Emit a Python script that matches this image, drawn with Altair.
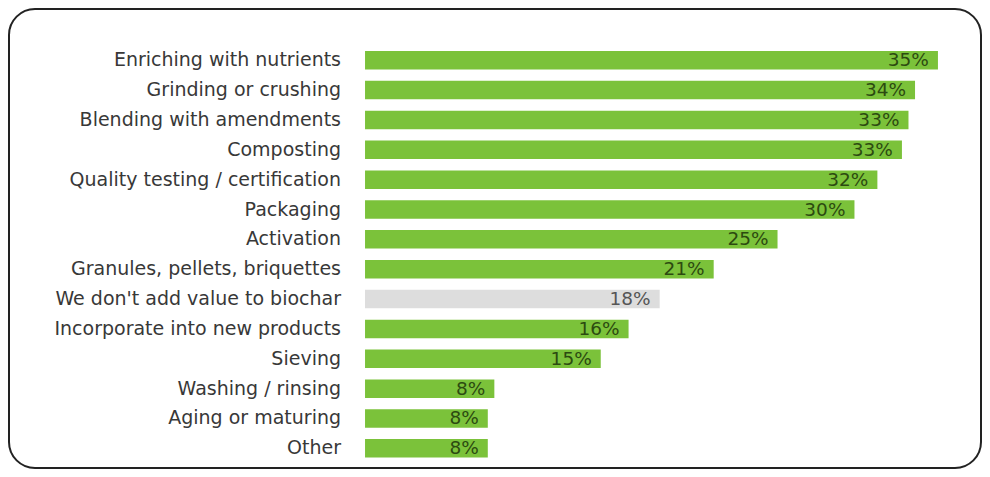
import altair as alt
import pandas as pd

categories = [
    "Enriching with nutrients", "Grinding or crushing", "Blending with amendments",
    "Composting", "Quality testing / certification", "Packaging", "Activation",
    "Granules, pellets, briquettes", "We don't add value to biochar",
    "Incorporate into new products", "Sieving", "Washing / rinsing",
    "Aging or maturing", "Other",
]
values = [35.0, 33.6, 33.2, 32.8, 31.3, 29.9, 25.2, 21.3, 18.0, 16.1, 14.4, 7.9, 7.5, 7.5]
value_labels = ["35%", "34%", "33%", "33%", "32%", "30%", "25%", "21%", "18%", "16%", "15%", "8%", "8%", "8%"]
highlight = ["yes"] * 8 + ["no"] + ["yes"] * 5

df = pd.DataFrame({"cat": categories, "val": values, "lab": value_labels, "kind": highlight})

W, H = 972, 459
x_scale = alt.Scale(domain=[-21.75, 37.63], nice=False, zero=False)
y_scale = alt.Scale(domain=categories, range=[42, 448.6], paddingInner=0.38, paddingOuter=0)

base = alt.Chart(df)

bars = base.mark_bar(size=18.5).encode(
    x=alt.X("val:Q", scale=x_scale, axis=None),
    x2=alt.datum(0),
    y=alt.Y("cat:N", scale=y_scale, axis=None, sort=categories),
    color=alt.Color("kind:N", scale=alt.Scale(domain=["yes", "no"], range=["#7bc23a", "#dddddd"]), legend=None),
)

vals = base.mark_text(align="right", baseline="middle", dx=-9, fontSize=18.5,
                      font="DejaVu Sans").encode(
    x=alt.X("val:Q", scale=x_scale, axis=None),
    y=alt.Y("cat:N", scale=y_scale, axis=None, sort=categories),
    text="lab:N",
    color=alt.Color("kind:N", scale=alt.Scale(domain=["yes", "no"], range=["#2c4a10", "#555555"]), legend=None),
)

cats = base.mark_text(align="right", baseline="middle", dx=-24, fontSize=19,
                      font="DejaVu Sans", color="#383838").encode(
    x=alt.X("zero:Q", scale=x_scale, axis=None),
    y=alt.Y("cat:N", scale=y_scale, axis=None, sort=categories),
    text="cat:N",
).transform_calculate(zero="0")

chart = alt.layer(bars, vals, cats).resolve_scale(color="independent").properties(
    width=W, height=H, padding=1,
).configure_view(
    stroke="#222222", strokeWidth=2, cornerRadius=26, fill="white",
)

chart.save("out.html", embed_options={"renderer": "svg", "actions": False})
